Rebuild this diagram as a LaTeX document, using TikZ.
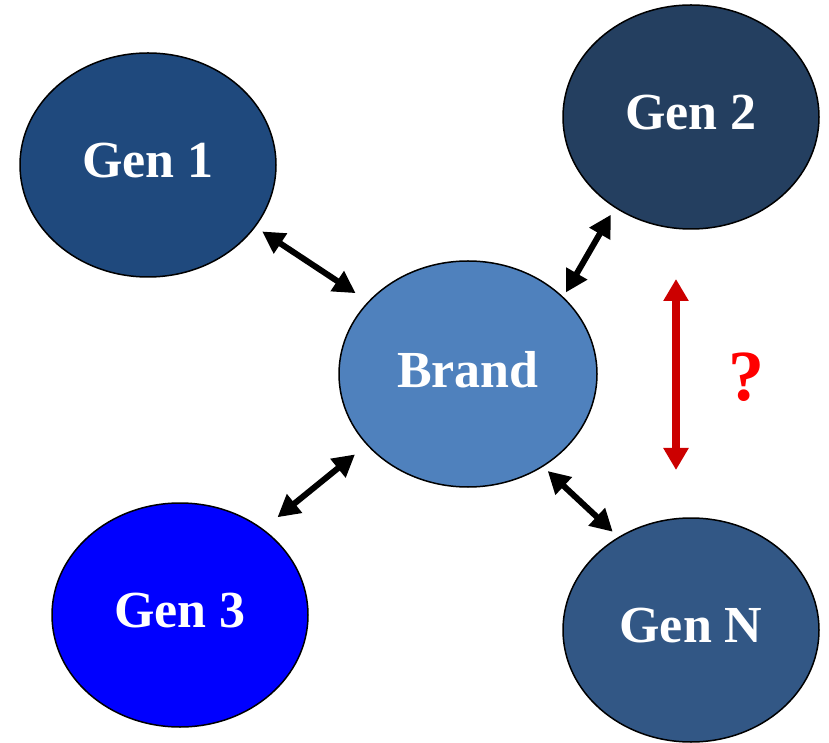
\documentclass[tikz,border=0pt]{standalone}
\usepackage{fontspec}
\setmainfont{Liberation Serif}
\usetikzlibrary{shapes.geometric,arrows.meta}
\definecolor{cgone}{HTML}{1F497D}
\definecolor{cgtwo}{HTML}{243F60}
\definecolor{cgthree}{HTML}{0000FF}
\definecolor{cgn}{HTML}{325785}
\definecolor{cbrand}{HTML}{4F81BD}
\definecolor{cdarkred}{HTML}{CC0000}
\begin{document}
\begin{tikzpicture}[x=1pt,y=1pt,
  gen/.style={ellipse,draw=black,line width=1.5pt,minimum width=256pt,minimum height=224pt,
    inner sep=0pt,text=white,font=\fontsize{52}{52}\selectfont\bfseries,text depth=9pt},
  biarrow/.style={line width=6pt,{Triangle[length=22pt,width=23pt]}-{Triangle[length=22pt,width=23pt]}},
  redarrow/.style={line width=8pt,draw=cdarkred,{Triangle[length=22pt,width=24pt]}-{Triangle[length=22pt,width=24pt]}}]
\useasboundingbox (0,0) rectangle (829,742);
\node[gen,fill=cgone] (g1) at (148,577) {Gen 1};
\node[gen,fill=cgtwo] (g2) at (691,625) {Gen 2};
\node[gen,fill=cbrand,minimum width=258pt,minimum height=226pt] (br) at (468,368) {Brand};
\node[gen,fill=cgthree] (g3) at (180,127) {Gen 3};
\node[gen,fill=cgn] (gn) at (691,112) {Gen N};
\draw[biarrow,shorten <=8pt,shorten >=15pt] (g1.330.2) -- (br.144.3);
\draw[biarrow,shorten <=8pt,shorten >=5pt] (g2.230.6) -- (br.39.1);
\draw[biarrow,shorten <=15pt,shorten >=18.5pt] (br.215.5) -- (g3.46.0);
\draw[biarrow,shorten <=6.3pt,shorten >=7.6pt] (br.309.5) -- (gn.128.75);
\coordinate (rtop) at (676,463);
\coordinate (rbot) at (676,272);
\draw[redarrow] (rtop) -- (rbot);
\node[text=red,font=\fontsize{72}{72}\selectfont\bfseries] (q) at (746,365) {?};
\end{tikzpicture}
\end{document}
